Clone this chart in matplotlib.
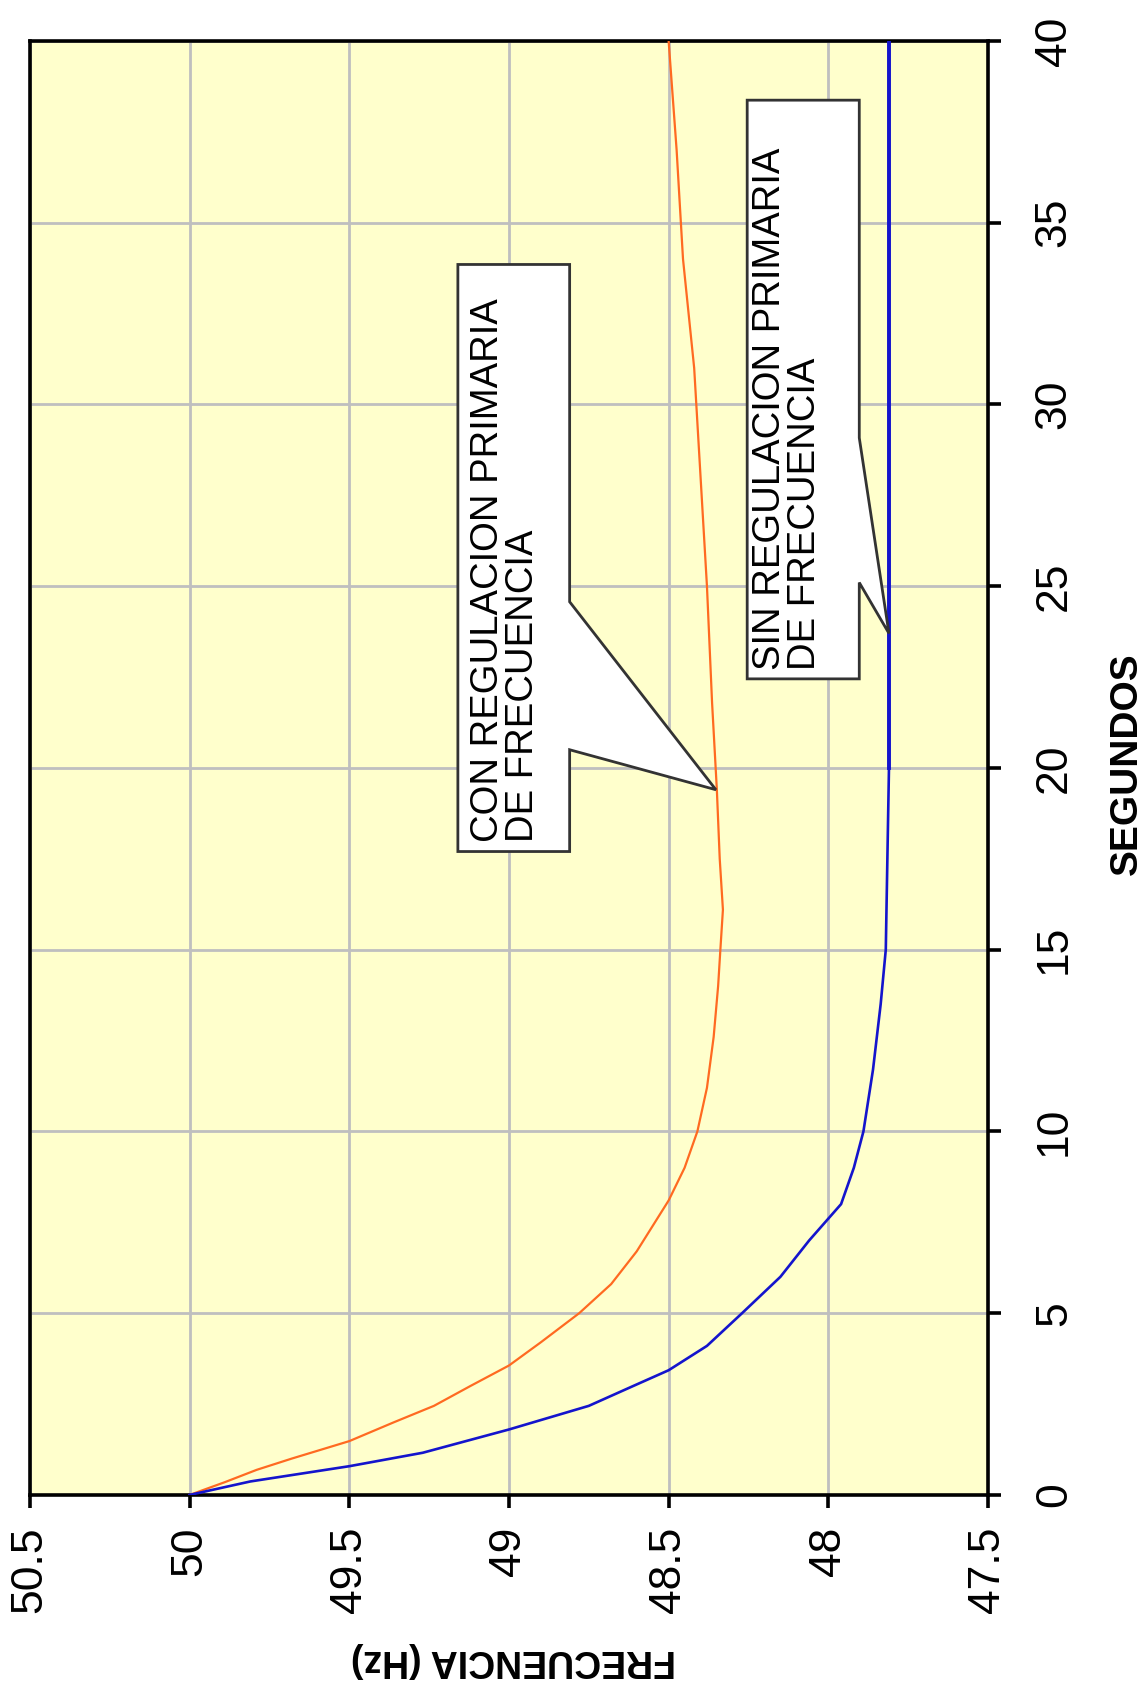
import matplotlib
matplotlib.use('Agg')
import matplotlib.pyplot as plt
from matplotlib.patches import Polygon

plt.rcParams['font.family'] = ['Liberation Sans', 'DejaVu Sans']

# tiempo (s) y frecuencia (Hz)
t_con = [0, 0.35, 0.69, 1.0, 1.48, 2.0, 2.45, 3.0, 3.56, 4.2, 5.0, 5.8, 6.7, 7.4, 8.1, 9.0,
         10.0, 11.2, 12.6, 14.0, 15.0, 16.1, 17.5, 19.4, 21.8, 25, 28, 31, 34, 37, 40]
f_con = [50, 49.89, 49.79, 49.68, 49.5, 49.36, 49.235, 49.12, 49.0, 48.9, 48.78, 48.68, 48.6, 48.55,
         48.5, 48.45, 48.41, 48.38, 48.359, 48.345, 48.338, 48.33, 48.34, 48.349, 48.364, 48.38,
         48.4, 48.42, 48.455, 48.475, 48.5]

t_sin = [0, 0.37, 0.79, 1.16, 1.8, 2.45, 3.0, 3.43, 4.1, 5.0, 6.0, 7.0, 7.6, 8.0, 9.0, 10.0, 11.7,
         13.5, 15.0, 17.5, 20.0, 21.8, 25, 30, 35, 40]
f_sin = [50, 49.81, 49.5, 49.27, 49.0, 48.75, 48.61, 48.5, 48.38, 48.27, 48.15, 48.06, 48.0, 47.96,
         47.92, 47.89, 47.86, 47.836, 47.82, 47.815, 47.81, 47.81, 47.81, 47.81, 47.81, 47.81]

freq_ticks = [50.5, 50, 49.5, 49, 48.5, 48, 47.5]
seg_ticks = [0, 5, 10, 15, 20, 25, 30, 35, 40]
freq_labels = ['50.5', '50', '49.5', '49', '48.5', '48', '47.5']
seg_labels = ['0', '5', '10', '15', '20', '25', '30', '35', '40']

txt_con = 'CON REGULACION PRIMARIA\nDE FRECUENCIA'
txt_sin = 'SIN REGULACION PRIMARIA\nDE FRECUENCIA'

fig = plt.figure(figsize=(11.48, 16.98), dpi=100)
ax = fig.add_axes([0.0261, 0.1196, 0.8345, 0.8563])
ax.set_facecolor('#FFFFCC')

# grafico girado: frecuencia en horizontal, segundos en vertical
ax.plot(f_con, t_con, color='#FF6A21', lw=1.6, zorder=3)
ax.plot(f_sin, t_sin, color='#1414CC', lw=1.9, zorder=3)
# el tramo plano se ve mas grueso en el original
n0 = t_sin.index(20.0)
ax.plot(f_sin[n0:], t_sin[n0:], color='#1414CC', lw=2.8, zorder=3)

ax.set_xlim(50.5, 47.5)
ax.set_ylim(0, 40)
ax.set_xticks(freq_ticks)
ax.set_xticklabels(freq_labels)
ax.set_yticks(seg_ticks)
ax.set_yticklabels(seg_labels)
ax.yaxis.tick_right()

ax.grid(True, color='#BFBFBF', lw=2.0)
ax.set_axisbelow(True)
for s in ax.spines.values():
    s.set_linewidth(2.6)
    s.set_color('black')

ax.tick_params(axis='x', direction='out', length=9, width=2.6, labelsize=32,
               labelrotation=90, pad=14, colors='black')
ax.tick_params(axis='y', direction='out', length=9, width=2.6, labelsize=32,
               labelrotation=90, pad=24, colors='black')
for tk in ax.yaxis.get_major_ticks():
    tk.label2.set_va('center')
    tk.label2.set_ha('left')


def callout(f_left, f_right, t_bot, t_top, w_top, w_bot, tip, text, f_text, t_text):
    pts = [(f_left, t_bot), (f_left, t_top), (f_right, t_top), (f_right, w_top),
           tip, (f_right, w_bot), (f_right, t_bot)]
    ax.add_patch(Polygon(pts, closed=True, facecolor='white', edgecolor='#333333',
                         lw=2.0, zorder=4))
    ax.text(f_text, t_text, text, rotation=90, ha='center', va='bottom',
            multialignment='left', fontsize=27.5, linespacing=0.95, zorder=5)


callout(49.16, 48.81, 17.7, 33.85, 24.57, 20.5, (48.352, 19.4), txt_con, 49.011, 17.95)
callout(48.254, 47.903, 22.45, 38.37, 29.08, 25.1, (47.81, 23.7), txt_sin, 48.128, 22.7)

fig.text(0.982, 0.550, 'SEGUNDOS', rotation=90, ha='center', va='center',
         fontsize=28, fontweight='bold')
fig.text(0.447, 0.0224, 'FRECUENCIA (Hz)', rotation=180, ha='center', va='center',
         fontsize=27, fontweight='bold')

fig.savefig('out.png', dpi=100)
